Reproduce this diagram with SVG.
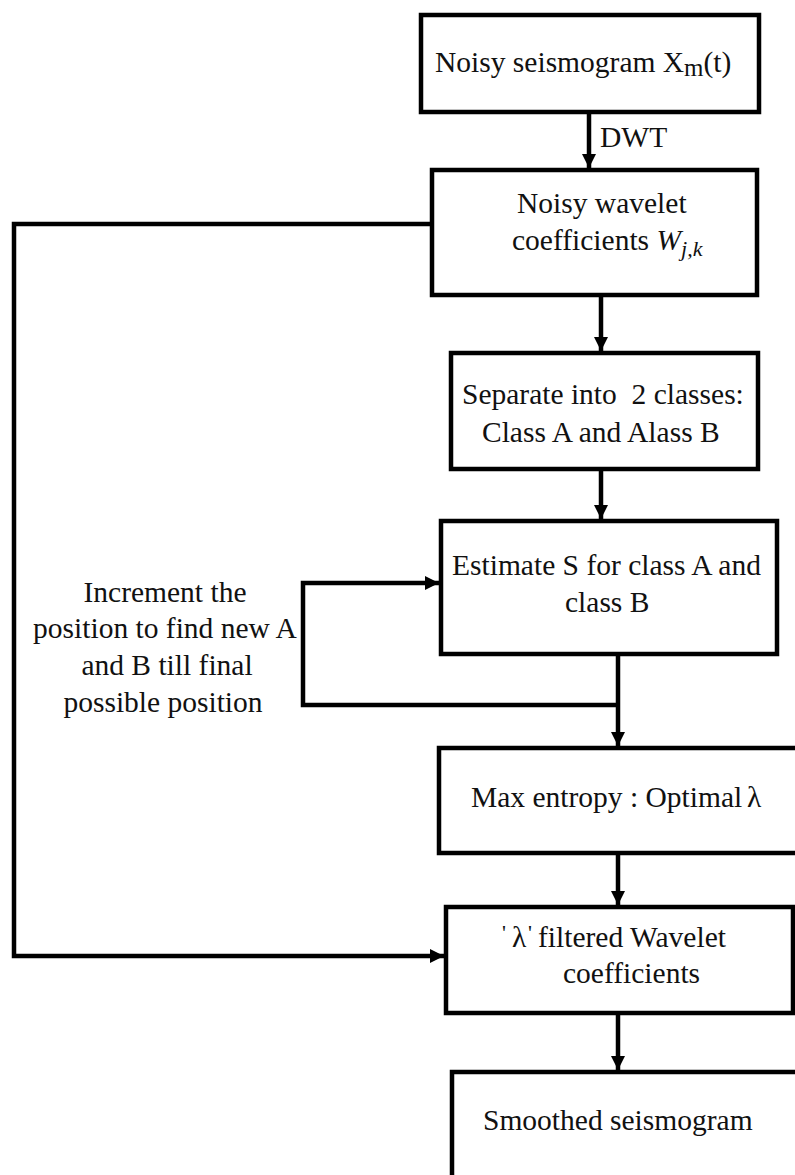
<svg xmlns="http://www.w3.org/2000/svg" width="795" height="1175" viewBox="0 0 795 1175">
<style>
.box{fill:#fff;stroke:#000;stroke-width:4.5}
.con{fill:none;stroke:#000;stroke-width:4.5}
text{font-family:"Liberation Serif","Times New Roman",serif;font-size:29.5px;fill:#111}
.it{font-style:italic}
.sm{font-size:22px}
.pre{white-space:pre}
</style>
<defs>
<marker id="ah" markerUnits="userSpaceOnUse" markerWidth="16" markerHeight="16" refX="14" refY="8" orient="auto">
<path d="M0,1 L14,8 L0,15 Z" fill="#000"/>
</marker>
</defs>
<rect width="795" height="1175" fill="#fff"/>
<g id="connectors">
<line class="con" x1="589" y1="112" x2="589" y2="168" marker-end="url(#ah)"/>
<line class="con" x1="601" y1="295" x2="601" y2="351" marker-end="url(#ah)"/>
<line class="con" x1="601" y1="469" x2="601" y2="519" marker-end="url(#ah)"/>
<line class="con" x1="618" y1="654" x2="618" y2="746" marker-end="url(#ah)"/>
<line class="con" x1="618" y1="853" x2="618" y2="905" marker-end="url(#ah)"/>
<line class="con" x1="618" y1="1013" x2="618" y2="1070" marker-end="url(#ah)"/>
<polyline class="con" points="618,705 303,705 303,583 439,583" marker-end="url(#ah)"/>
<polyline class="con" points="432,224 14,224 14,956 444,956" marker-end="url(#ah)"/>
<text x="600" y="147">DWT</text>
</g>
<g id="n1">
<rect class="box" x="421" y="15" width="338" height="97"/>
<text x="435" y="72">Noisy seismogram X<tspan style="font-size:25px" dy="4">m</tspan><tspan dy="-4">(t)</tspan></text>
</g>
<g id="n2">
<rect class="box" x="432" y="170" width="325" height="125"/>
<text x="517" y="213">Noisy wavelet</text>
<text x="512" y="250">coefficients <tspan class="it">W</tspan><tspan class="it sm" dy="6">j,k</tspan></text>
</g>
<g id="n3">
<rect class="box" x="451" y="353" width="307" height="116"/>
<text class="pre" x="462" y="404">Separate into  2 classes:</text>
<text x="482" y="442">Class A and Alass B</text>
</g>
<g id="n4">
<rect class="box" x="441" y="521" width="336" height="133"/>
<text x="452" y="575">Estimate S for class A and</text>
<text x="565" y="612">class B</text>
</g>
<g id="loop-label">
<text x="165" y="602" text-anchor="middle">Increment the</text>
<text x="165" y="638" text-anchor="middle">position to find new A</text>
<text x="167" y="675" text-anchor="middle">and B till final</text>
<text x="163" y="712" text-anchor="middle">possible position</text>
</g>
<g id="n5">
<rect class="box" x="439" y="748" width="362" height="105"/>
<text x="471" y="807">Max entropy : Optimal</text>
<text x="747" y="807">λ</text>
</g>
<g id="n6">
<rect class="box" x="446" y="907" width="347" height="106"/>
<text class="sm" x="502" y="940">'</text>
<text x="512" y="947">λ</text>
<text class="sm" x="528" y="940">'</text>
<text x="538" y="947">filtered Wavelet</text>
<text x="563" y="983">coefficients</text>
</g>
<g id="n7">
<rect class="box" x="452" y="1072" width="350" height="120"/>
<text x="483" y="1130">Smoothed seismogram</text>
</g>
</svg>
